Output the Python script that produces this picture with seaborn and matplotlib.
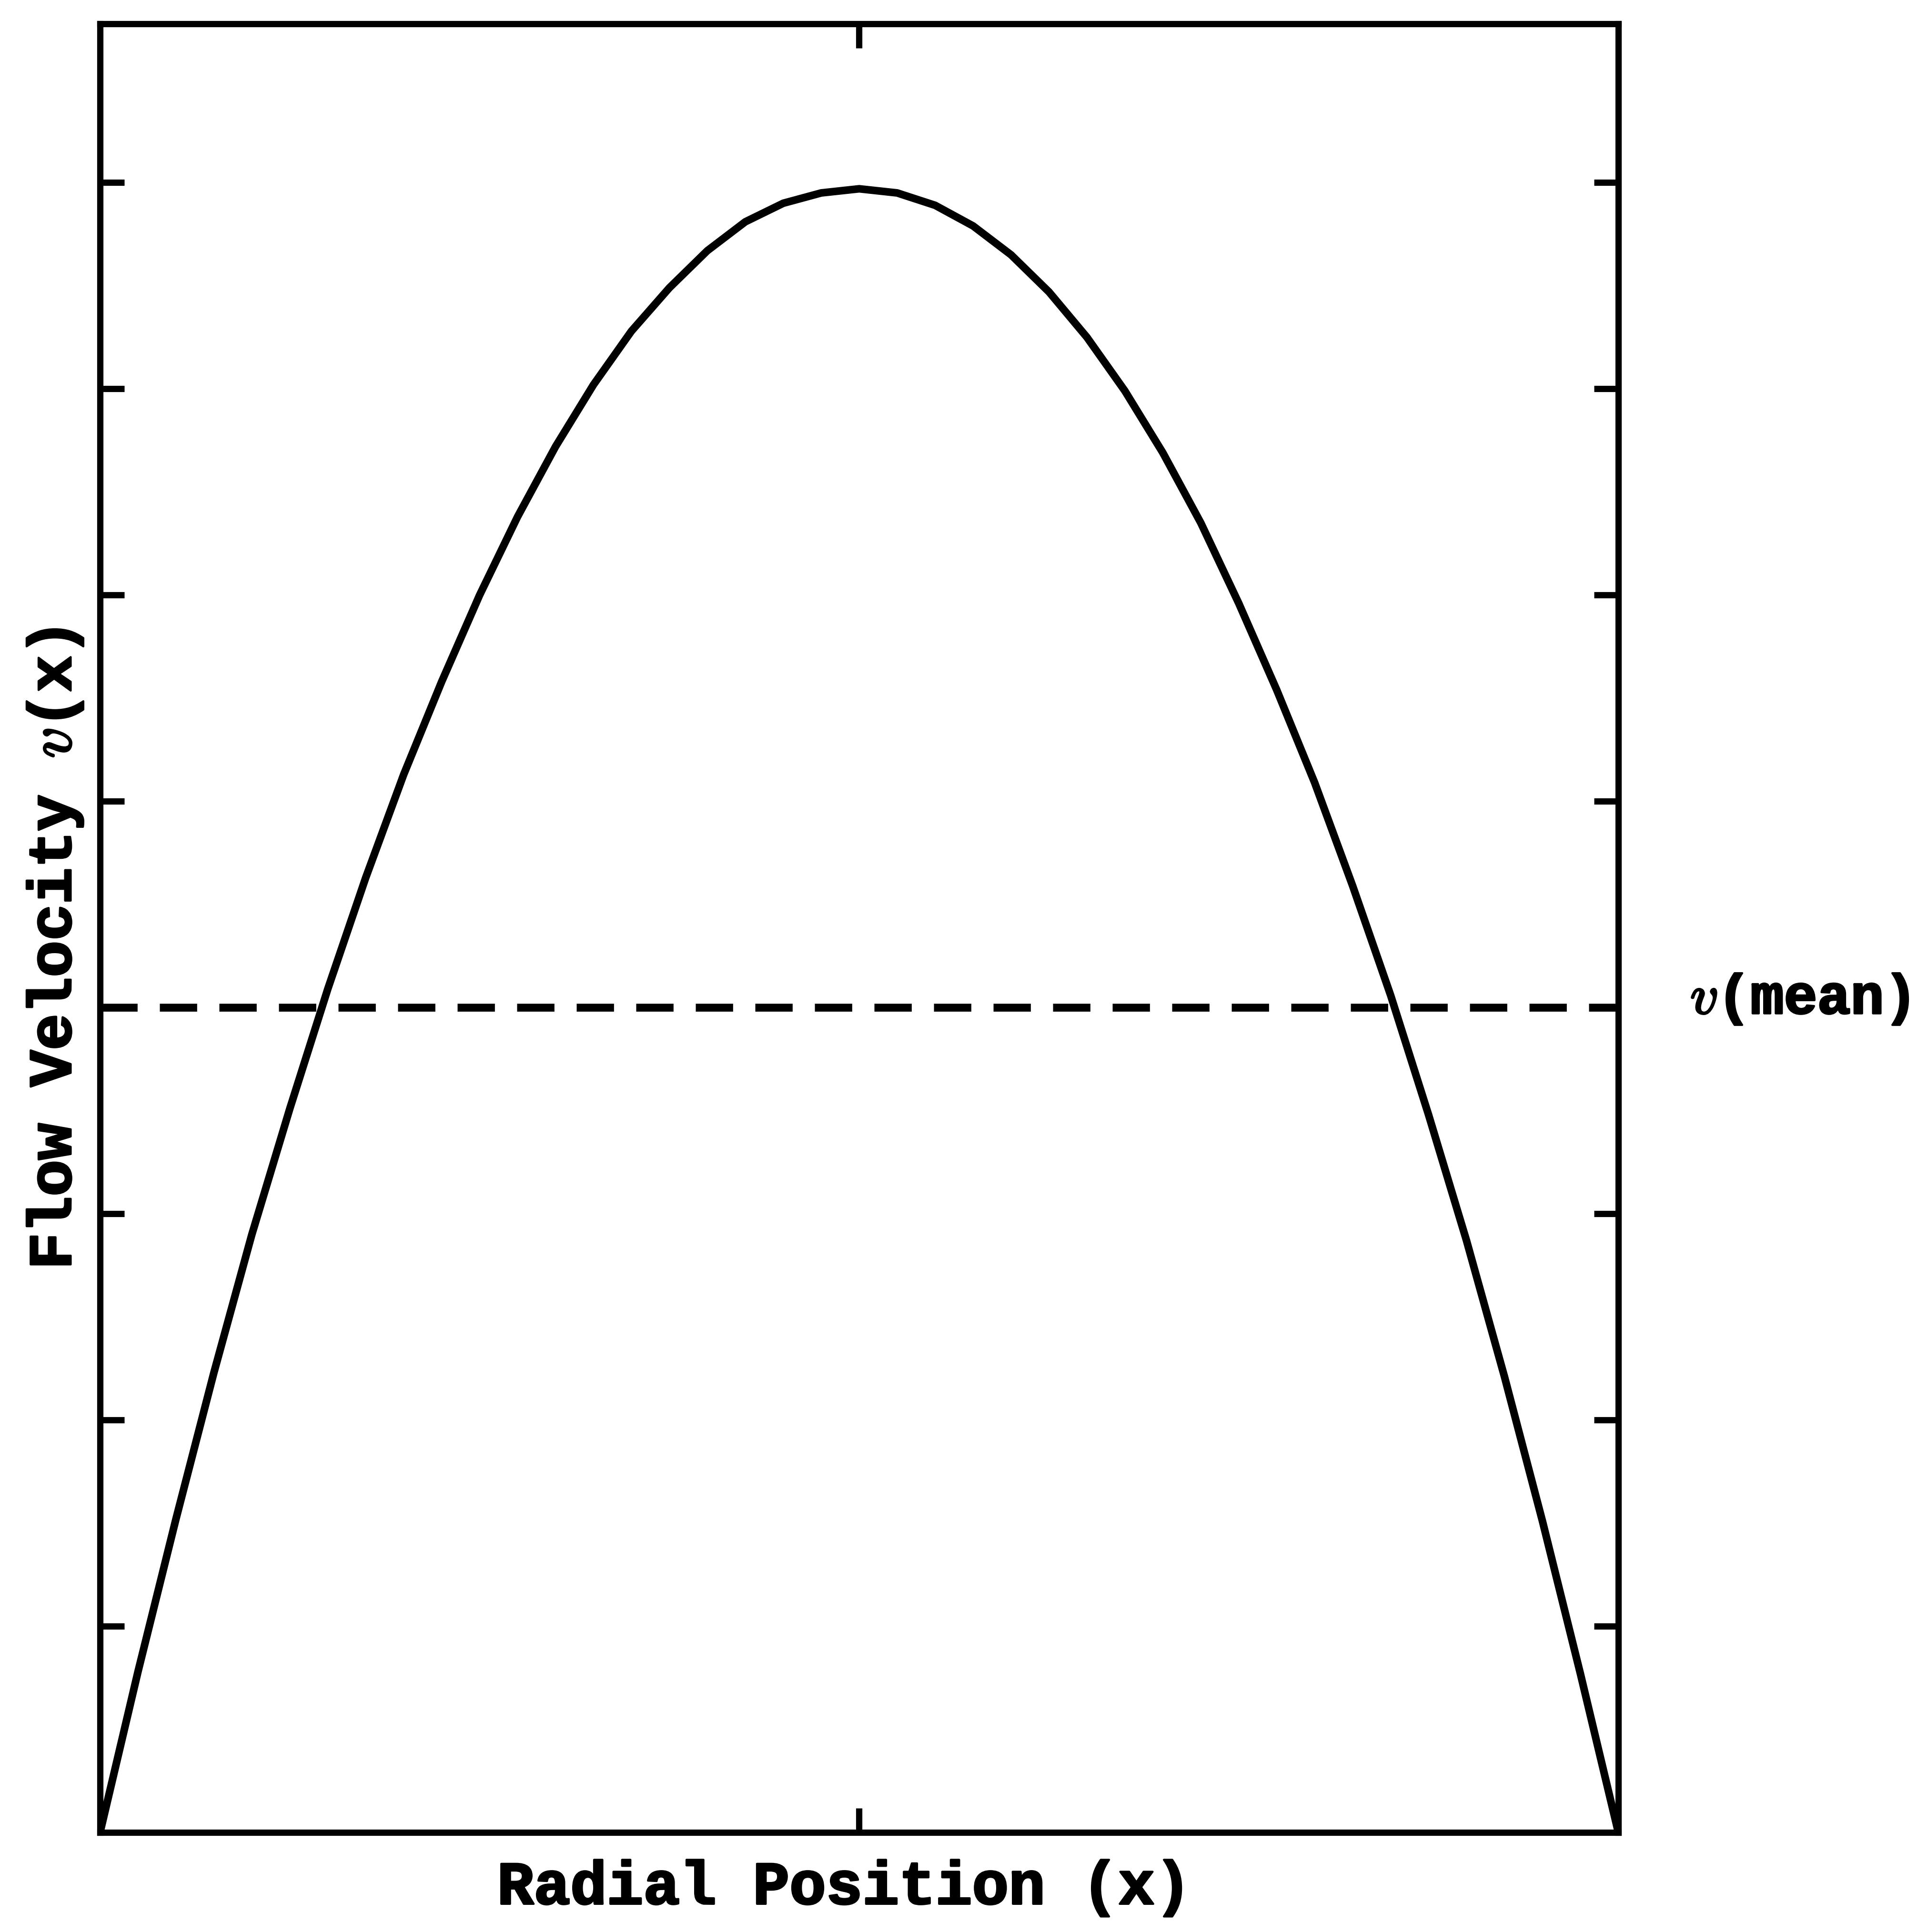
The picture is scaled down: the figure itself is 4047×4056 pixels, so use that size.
import numpy as np
import matplotlib
matplotlib.use("Agg")
import matplotlib.pyplot as plt
import matplotlib.transforms as mtransforms
import matplotlib.patheffects as pe
import seaborn as sns

sns.set_style("white")
plt.rcParams['font.family'] = ['Liberation Mono', 'DejaVu Sans Mono']
plt.rcParams['font.weight'] = 'bold'
plt.rcParams['mathtext.fontset'] = 'cm'
plt.rcParams['text.color'] = 'black'
plt.rcParams['axes.labelcolor'] = 'black'

# profile (radial position -1..1, velocity in tick units)
radial_x = [-1.00, -0.95, -0.90, -0.85, -0.80, -0.75, -0.70, -0.65, -0.60, -0.55,
            -0.50, -0.45, -0.40, -0.35, -0.30, -0.25, -0.20, -0.15, -0.10, -0.05,
            0.00, 0.05, 0.10, 0.15, 0.20, 0.25, 0.30, 0.35, 0.40, 0.45,
            0.50, 0.55, 0.60, 0.65, 0.70, 0.75, 0.80, 0.85, 0.90, 0.95, 1.00]
velocity = [0.00, 0.78, 1.52, 2.23, 2.90, 3.51, 4.09, 4.63, 5.13, 5.58,
            6.00, 6.38, 6.72, 7.02, 7.28, 7.49, 7.67, 7.81, 7.90, 7.95,
            7.97, 7.95, 7.89, 7.79, 7.65, 7.47, 7.25, 6.99, 6.69, 6.35,
            5.96, 5.54, 5.09, 4.59, 4.06, 3.48, 2.87, 2.21, 1.51, 0.77, 0.00]
mean_velocity = 4.0

y_ticks = [1, 2, 3, 4, 5, 6, 7, 8]
x_ticks = [0]

fig = plt.figure(figsize=(40.48, 40.56), dpi=100)
ax = fig.add_axes([210 / 4048, 1 - 3847 / 4056, 3187 / 4048, 3797 / 4056])

sns.lineplot(x=radial_x, y=velocity, color='black', linewidth=11.5, ax=ax,
             estimator=None, sort=False)
ax.axhline(mean_velocity, color='black', linewidth=12, dashes=(4.7, 2.8))

ax.set_xlim(-1, 1)
ax.set_ylim(0, 8.77)
ax.set_xticks(x_ticks)
ax.set_yticks(y_ticks)
ax.set_xticklabels([])
ax.set_yticklabels([])
ax.tick_params(axis='both', direction='in', length=37, width=9.5, color='black',
               left=True, right=True, top=True, bottom=True)

for s in ax.spines.values():
    s.set_visible(True)
    s.set_color('black')
    s.set_linewidth(9.5)

heavy = [pe.withStroke(linewidth=3, foreground='black')]

ax.set_xlabel('Radial Position (x)', fontsize=92, fontweight='bold',
              color='black', path_effects=heavy)
ax.xaxis.set_label_coords(0.49, -0.015)
ax.set_ylabel('Flow Velocity $v$(x)', fontsize=92, fontweight='bold',
              color='black', path_effects=heavy)
ax.yaxis.set_label_coords(-0.010, 0.4885)

trans = mtransforms.blended_transform_factory(ax.transAxes, ax.transData)
ax.text(1.0474, mean_velocity - 0.03, '$v$(mean)', transform=trans,
        fontsize=84, fontweight='bold', color='black', ha='left', va='baseline',
        path_effects=heavy)

plt.savefig('out.png', dpi=100, facecolor='white')
plt.close()
